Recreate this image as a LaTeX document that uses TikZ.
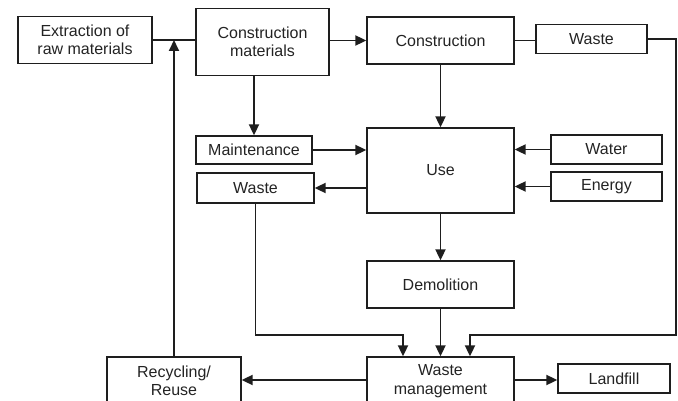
\documentclass[tikz,border=0pt]{standalone}
\usepackage{fontspec}
\setmainfont{Liberation Sans}
\usetikzlibrary{arrows.meta}
\definecolor{LineGray}{RGB}{30, 30, 30}
\definecolor{TextGray}{RGB}{35, 35, 35}
\begin{document}
\begin{tikzpicture}[x=1pt, y=-1pt,
    block/.style={draw=LineGray, line width=1.3pt, align=center, inner sep=0pt,
        text=TextGray, font=\fontsize{16}{18.5}\selectfont},
    link/.style={draw=LineGray, line width=1.8pt},
    arr/.style={link, -{Triangle[length=11pt, width=10pt]}}]
    \useasboundingbox (0,0) rectangle (678,401);
    \node[block, minimum width=134pt, minimum height=47pt] (extr) at (85,40) {Extraction of\\raw materials};
    \node[block, minimum width=133pt, minimum height=67pt] (cmat) at (262.5,42) {Construction\\materials};
    \node[block, minimum width=147pt, minimum height=47pt] (constr) at (440.5,40.5) {Construction};
    \node[block, minimum width=111pt, minimum height=29pt] (wastetop) at (591.5,39) {Waste};
    \node[block, minimum width=116pt, minimum height=28pt] (maint) at (254,150) {Maintenance};
    \node[block, minimum width=147pt, minimum height=85pt] (use) at (440.5,170.5) {Use};
    \node[block, minimum width=117pt, minimum height=30pt] (wasteleft) at (255.5,188) {Waste};
    \node[block, minimum width=111pt, minimum height=29pt] (water) at (606.5,149.5) {Water};
    \node[block, minimum width=111pt, minimum height=29pt] (energy) at (606.5,186.5) {Energy};
    \node[block, minimum width=147pt, minimum height=47pt] (demol) at (440.5,284.5) {Demolition};
    \node[block, minimum width=147pt, minimum height=48pt] (wm) at (440.5,381) {Waste\\management};
    \node[block, minimum width=134pt, minimum height=48pt] (recyc) at (174,381) {Recycling/\\Reuse};
    \node[block, minimum width=112pt, minimum height=29pt] (landfill) at (614,378.5) {Landfill};
    \coordinate (junc) at (recyc.north |- extr.east);
    \coordinate (lowleft) at (403,335);
    \coordinate (lowright) at (676,335);
    \draw[link] (extr.east) -- (extr.east -| cmat.west);
    \draw[arr] (recyc.north) -- (junc);
    \draw[arr] (cmat.east |- constr.west) -- (constr.west);
    \draw[link] (constr.east) -- (constr.east -| wastetop.west);
    \draw[arr] (cmat.south -| maint.north) -- (maint.north);
    \draw[arr] (constr) -- (use);
    \draw[arr] (maint.east) -- (maint.east -| use.west);
    \draw[arr] (water.west) -- (water.west -| use.east);
    \draw[arr] (energy.west) -- (energy.west -| use.east);
    \draw[arr] (use.west |- wasteleft.east) -- (wasteleft.east);
    \draw[arr] (use) -- (demol);
    \draw[arr] (demol) -- (wm);
    \draw[arr] (wasteleft.south) |- (lowleft) -- (lowleft |- wm.north);
    \draw[arr] (wastetop.east) -| (lowright) -| ([xshift=29.5pt]wm.north);
    \draw[arr] (wm.west |- 0,380) -- (recyc.east |- 0,380);
    \draw[arr] (wm.east |- 0,380) -- (landfill.west |- 0,380);
\end{tikzpicture}
\end{document}
